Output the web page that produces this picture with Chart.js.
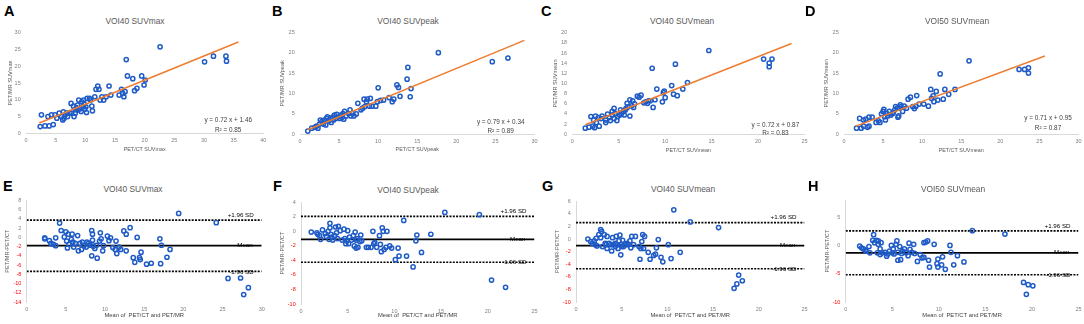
<!DOCTYPE html>
<html>
<head>
<meta charset="utf-8">
<script src="https://cdn.jsdelivr.net/npm/chart.js@4.4.1/dist/chart.umd.min.js"></script>
<style>
html,body{margin:0;padding:0;background:#fff;}
body{width:1084px;height:324px;position:relative;overflow:hidden;font-family:"Liberation Sans",Arial,sans-serif;}
canvas{position:absolute;}
.letter{position:absolute;font-size:14.5px;line-height:14.5px;font-weight:bold;color:#000;}
.ptitle{position:absolute;font-size:8.4px;line-height:8.4px;color:#595959;transform:translate(-50%,-50%);white-space:nowrap;}
</style>
</head>
<body>
<script>
// ---------------- DATA ----------------
const panelTitles = ["VOI40 SUVmax", "VOI40 SUVpeak", "VOI40 SUVmean", "VOI50 SUVmean"];
const topLetters = ["A", "B", "C", "D"];
const bottomLetters = ["E", "F", "G", "H"];
const xTitlesTop = ["PET/CT SUVmax", "PET/CT SUVpeak", "PET/CT SUVmean", "PET/CT SUVmean"];
const yTitlesTop = ["PET/MR SUVmax", "PET/MR SUVpeak", "PET/MR SUVmean", "PET/MR SUVmean"];
const xTitleBottom = "Mean of  PET/CT and PET/MR";
const yTitleBottom = "PET/MR-PET/CT";

// regression (top row)
const slopes = [0.72, 0.79, 0.72, 0.71];
const intercepts = [1.46, 0.34, 0.87, 0.95];
const rSquared = [0.85, 0.89, 0.83, 0.87];
const trendStart = [2.25, 1.0, 1.4, 1.5];
const trendEnd = [35.8, 28.7, 23.6, 25.7];

// axes
const topXMax = [40, 30, 25, 30];
const topYMax = [30, 25, 20, 25];
const topYStep = [5, 5, 2, 5];
const bottomXMax = [30, 25, 25, 25];
const bottomYMin = [-14, -10, -10, -10];
const bottomYMax = [8, 4, 6, 8];
const bottomYTicks = [
  [-14, -12, -10, -8, -6, -4, -2, 0, 2, 4, 6, 8],
  [-10, -8, -6, -4, -2, 0, 2, 4],
  [-10, -8, -6, -4, -2, 0, 2, 4, 6],
  [-10, -5, 0, 5]
];

// Bland-Altman limits
const meanDiff = [-1.8, -1.1, -1.05, -1.3];
const upperLoA = [3.75, 2.05, 2.6, 2.55];
const lowerLoA = [-7.35, -4.25, -4.7, -5.15];

// scatter points [x, y]
const ptsA = [[2.4,2.0],[2.6,5.5],[3.2,2.2],[3.7,5.0],[3.9,2.2],[4.3,5.5],[4.6,2.6],[4.9,5.5],[5.2,4.5],[5.6,6.0],[6.0,5.0],[6.2,4.0],[6.3,6.4],[6.4,4.5],[6.6,5.5],[6.9,6.0],[7.0,5.0],[7.4,6.2],[7.6,8.9],[7.7,6.0],[8.0,8.1],[8.1,5.0],[8.3,6.0],[8.4,7.0],[8.5,7.7],[8.7,8.4],[8.8,7.0],[8.9,9.9],[9.1,7.3],[9.3,6.5],[9.4,9.4],[9.6,7.9],[9.7,9.9],[9.8,8.7],[9.9,7.2],[10.1,7.9],[10.2,6.2],[10.3,10.4],[10.7,10.4],[10.9,9.9],[11.1,8.1],[11.2,6.7],[11.6,10.9],[11.8,13.1],[12.1,14.1],[12.3,13.1],[12.5,9.9],[12.8,10.9],[13.1,9.9],[13.5,10.9],[14.0,14.1],[14.3,11.4],[15.7,11.4],[16.1,13.1],[16.3,11.9],[16.5,10.9],[16.7,12.4],[16.9,22.0],[17.1,17.1],[18.0,16.3],[18.3,12.7],[18.7,13.4],[19.5,17.1],[19.9,14.4],[20.1,15.9],[22.6,25.8],[30.1,21.3],[31.6,23.0],[33.7,23.0],[33.8,21.5]];
const ptsB = [[1.0,0.8],[1.5,1.5],[1.9,1.7],[2.1,2.0],[2.3,1.5],[2.5,2.5],[2.6,3.5],[2.8,3.1],[3.0,2.5],[3.1,3.5],[3.3,2.3],[3.4,3.9],[3.5,4.3],[3.7,3.3],[3.9,3.9],[4.0,2.9],[4.2,4.2],[4.3,3.5],[4.4,4.7],[4.6,3.9],[4.7,4.9],[4.9,4.3],[5.1,3.9],[5.2,4.7],[5.4,4.2],[5.5,5.1],[5.6,3.7],[5.7,5.6],[5.9,4.5],[6.2,5.1],[6.4,6.0],[6.5,4.5],[6.7,5.1],[6.9,4.5],[7.2,5.0],[7.4,7.6],[7.8,6.0],[8.0,6.4],[8.2,8.6],[8.3,6.8],[8.5,8.0],[8.6,8.6],[8.9,6.9],[9.0,8.8],[9.2,6.9],[9.7,6.9],[9.9,8.0],[10.0,11.4],[10.3,8.3],[10.7,8.4],[11.4,9.0],[11.8,8.0],[12.0,8.6],[12.4,12.1],[12.6,11.5],[12.8,9.3],[13.7,13.5],[13.8,16.4],[14.1,9.2],[14.2,11.2],[17.7,20.0],[24.6,17.8],[26.6,18.7]];
const ptsC = [[1.4,1.2],[1.8,1.4],[2.0,3.5],[2.2,1.6],[2.3,2.8],[2.4,1.3],[2.5,3.6],[2.6,2.3],[2.8,3.3],[2.9,1.6],[3.1,3.1],[3.2,3.6],[3.6,2.8],[3.6,2.3],[3.8,4.0],[4.0,3.3],[4.1,2.7],[4.3,4.5],[4.3,3.8],[4.5,5.1],[4.5,3.1],[4.6,4.1],[4.8,2.7],[4.9,3.5],[5.1,3.8],[5.2,4.8],[5.3,4.1],[5.5,4.5],[5.6,3.8],[5.7,4.8],[5.8,5.1],[5.9,6.1],[6.0,5.4],[6.2,6.8],[6.2,3.6],[6.4,5.6],[6.5,6.6],[6.6,5.3],[6.7,6.0],[7.0,7.5],[7.2,7.3],[7.4,7.7],[7.7,6.2],[7.9,6.4],[8.1,6.1],[8.2,6.6],[8.4,6.6],[8.6,13.0],[8.7,5.3],[8.9,6.8],[9.1,8.9],[9.7,6.4],[9.8,8.2],[9.9,8.5],[10.0,7.2],[10.7,9.6],[10.9,7.9],[11.1,13.8],[11.3,7.6],[11.9,8.9],[12.4,10.2],[14.7,16.5],[20.6,14.8],[21.2,14.0],[21.2,13.3],[21.5,14.8]];
const ptsD = [[1.6,1.5],[2.0,3.9],[2.2,1.5],[2.5,3.5],[2.5,2.0],[2.8,3.7],[3.0,1.7],[3.2,4.2],[3.2,2.0],[3.6,4.2],[4.1,2.9],[4.4,3.3],[4.6,2.9],[4.8,5.0],[5.0,5.6],[5.1,6.1],[5.2,4.3],[5.3,3.5],[5.5,5.1],[5.6,4.5],[5.8,5.6],[6.0,4.7],[6.2,5.1],[6.3,5.3],[6.5,6.0],[6.6,6.8],[6.8,6.4],[6.9,4.2],[7.0,4.5],[7.1,6.4],[7.2,7.2],[7.3,6.8],[7.5,5.6],[7.7,6.9],[8.0,6.4],[8.2,8.6],[8.5,9.1],[8.8,6.8],[9.0,6.3],[9.2,6.9],[9.3,9.5],[9.6,7.4],[10.2,7.4],[10.8,6.9],[11.1,11.0],[11.2,8.8],[11.4,9.4],[11.5,8.0],[11.8,10.5],[12.0,8.4],[12.3,14.8],[12.7,8.6],[12.9,11.0],[13.4,9.8],[14.2,11.0],[16.0,18.0],[22.4,15.9],[23.1,15.9],[23.6,16.3],[23.6,15.0]];
const ptsE = [[2.3,-0.1],[2.3,-0.3],[2.9,-0.7],[3.1,-1.3],[3.4,-1.5],[3.7,-0.1],[3.7,-1.8],[4.2,3.1],[4.4,1.5],[4.8,0.1],[5.0,1.2],[5.1,-0.8],[5.2,-2.3],[5.3,0.7],[5.4,-1.5],[5.7,-0.4],[5.8,0.7],[5.9,-1.0],[6.0,-2.1],[6.2,-1.3],[6.5,0.4],[6.6,-2.9],[6.8,-1.3],[7.0,-2.6],[7.1,-1.0],[7.3,-1.8],[7.6,-2.1],[7.7,-1.0],[7.9,-1.3],[8.1,-1.7],[8.3,-4.0],[8.3,1.5],[8.4,0.7],[8.4,-0.6],[8.5,-1.9],[8.7,-2.4],[8.9,-1.7],[9.0,-4.5],[9.3,-0.8],[9.4,1.0],[9.5,-0.3],[9.7,-2.9],[9.8,-1.8],[10.3,0.3],[10.5,-0.7],[10.7,-0.1],[11.0,-2.2],[11.3,-2.6],[11.4,-0.8],[11.5,-3.5],[11.8,-2.1],[12.0,-2.6],[12.4,1.4],[12.7,0.7],[12.7,-2.9],[13.2,2.1],[13.6,-4.4],[13.8,-5.4],[14.1,0.0],[14.4,-4.4],[14.5,-4.8],[14.6,-3.2],[15.3,-5.8],[15.9,-5.6],[17.0,-0.3],[17.2,-1.7],[17.1,-5.7],[17.9,-4.3],[18.3,-2.6],[19.4,5.2],[24.2,3.2],[25.7,-8.9],[27.3,-8.8],[27.7,-12.4],[28.3,-10.9]];
const ptsF = [[1.1,-0.1],[1.7,-0.2],[1.8,-0.4],[2.0,-0.6],[2.1,-1.1],[2.3,0.2],[2.6,-0.3],[2.7,-0.7],[2.9,0.0],[3.0,-1.1],[3.1,1.1],[3.1,0.5],[3.2,-0.4],[3.3,-0.8],[3.4,-1.2],[3.6,-0.6],[3.7,0.6],[3.8,-0.2],[3.9,-1.0],[4.0,0.7],[4.2,0.1],[4.4,-1.2],[4.6,0.3],[4.7,-1.0],[4.8,-1.7],[4.9,-1.3],[5.0,0.1],[5.1,-1.7],[5.2,-0.8],[5.4,-1.2],[5.6,-0.6],[5.7,-2.0],[5.8,-0.1],[5.9,-1.2],[5.9,-2.3],[6.0,-1.0],[6.1,-2.2],[6.3,-1.4],[6.4,-0.5],[6.5,-1.3],[7.0,-2.2],[7.2,-2.2],[7.5,-2.2],[7.7,0.0],[7.8,-1.7],[7.9,-1.5],[8.1,-2.2],[8.4,-0.6],[8.5,-1.8],[8.6,-2.8],[8.7,0.5],[8.8,0.0],[8.9,-2.5],[9.1,-2.2],[9.2,0.0],[9.5,-2.0],[9.7,-2.3],[10.1,-3.9],[10.4,-2.3],[10.5,-3.4],[11.0,1.5],[11.3,-3.4],[12.0,-4.9],[12.3,-1.3],[12.4,-0.5],[12.9,-2.9],[13.9,-0.4],[15.4,2.6],[19.1,2.3],[20.4,-6.7],[21.9,-7.7]];
const ptsG = [[1.3,0.0],[1.6,-0.4],[1.8,-0.7],[2.0,-0.3],[2.1,-0.9],[2.2,0.1],[2.3,-1.1],[2.5,0.7],[2.7,1.5],[2.7,0.2],[2.8,1.2],[2.9,-1.2],[3.1,0.7],[3.2,-0.7],[3.3,-0.9],[3.4,0.4],[3.4,-1.5],[3.6,-0.7],[3.8,-0.9],[3.9,-1.9],[4.0,0.2],[4.1,-0.9],[4.3,-1.2],[4.3,-0.7],[4.4,0.4],[4.5,-0.9],[4.6,-1.5],[4.7,-0.3],[4.8,0.6],[4.9,-0.9],[4.9,-2.5],[5.0,-1.2],[5.1,-0.2],[5.2,-1.2],[5.4,-0.9],[5.6,-0.7],[5.7,-0.9],[5.9,-0.3],[6.0,-1.4],[6.1,0.4],[6.3,-0.9],[6.5,0.4],[6.9,-1.2],[7.0,-3.2],[7.1,-1.5],[7.2,-0.4],[7.3,0.7],[7.4,-1.5],[7.5,0.4],[7.9,-2.1],[8.1,-3.2],[8.5,-2.6],[8.7,-2.4],[8.8,-1.4],[9.0,-0.1],[9.3,-2.9],[9.5,-3.6],[10.1,-0.9],[10.4,-3.1],[10.7,4.6],[11.4,-2.1],[12.5,2.7],[15.6,1.8],[17.3,-7.8],[17.6,-7.1],[17.8,-5.7],[18.2,-6.6]];
const ptsH = [[1.5,-0.1],[1.7,-0.4],[1.9,-0.6],[2.1,-0.8],[2.2,-1.0],[2.5,-0.2],[2.6,-1.3],[2.9,0.9],[3.0,1.9],[3.1,0.5],[3.3,0.9],[3.4,-1.3],[3.5,0.2],[3.5,0.8],[3.7,-0.6],[3.7,-1.6],[3.8,0.5],[3.9,-1.3],[4.2,-1.2],[4.4,-1.9],[4.5,-1.5],[4.7,-1.0],[4.9,0.0],[5.0,-1.3],[5.1,-0.6],[5.2,-1.5],[5.4,0.2],[5.5,0.8],[5.6,-1.2],[5.6,-2.6],[5.8,-0.2],[5.9,-2.5],[6.0,-1.4],[6.1,-1.0],[6.3,-0.6],[6.5,-1.3],[6.7,-1.8],[6.8,0.4],[6.9,-0.7],[7.1,-1.2],[7.3,0.2],[7.4,-1.4],[7.7,-2.8],[8.0,-1.6],[8.2,-2.2],[8.4,-2.1],[8.4,0.5],[8.6,0.6],[8.8,0.8],[8.9,-2.6],[9.0,-3.8],[9.5,0.2],[9.8,-3.2],[9.9,-2.4],[9.9,-3.8],[10.3,-3.4],[10.4,-2.0],[10.7,-4.2],[11.2,0.0],[11.3,-1.2],[11.6,-3.4],[12.0,-1.8],[12.7,-2.9],[13.6,2.6],[17.1,2.0],[19.1,-6.5],[19.4,-8.6],[19.6,-6.9],[20.1,-7.1]];

const topPoints = [ptsA, ptsB, ptsC, ptsD];
const bottomPoints = [ptsE, ptsF, ptsG, ptsH];

// ---------------- LAYOUT / STYLE ----------------
const FONT = '"Liberation Sans", Arial, sans-serif';
const TICK_GRAY = '#7f7f7f';
const TEXT_GRAY = '#595959';
const BLUE = '#1f5bc6';
const ORANGE = '#ed7d31';

const geoTop = [
  {x:0,   y:0, w:270, h:160, pl:26,    pr:263.3,  pt:32.7, pb:133.3, yt:10.5, xt:150, tx:135, ty:20.7, lx:4,   ly:4.1},
  {x:270, y:0, w:270, h:160, pl:300,   pr:535,    pt:32.3, pb:134.3, yt:282,  xt:150, tx:408, ty:20.7, lx:272, ly:4.1},
  {x:540, y:0, w:270, h:160, pl:572.3, pr:808.3,  pt:32.7, pb:134.3, yt:555,  xt:150.5, tx:682, ty:20.7, lx:541, ly:4.1},
  {x:810, y:0, w:274, h:160, pl:844,   pr:1081.7, pt:32.3, pb:134.3, yt:826,  xt:150.5, tx:957, ty:20.7, lx:805, ly:4.1}
];
const geoBottom = [
  {x:0,   y:160, w:270, h:164, pl:26.7,  pr:261.7, pt:200.5, pb:302,   yt:7,   xt:315, tx:133, ty:189, lx:3,   ly:178.8},
  {x:270, y:160, w:270, h:164, pl:301,   pr:535.7, pt:202.3, pb:304,   yt:282, xt:315, tx:408, ty:190, lx:273, ly:178.8},
  {x:540, y:160, w:270, h:164, pl:576,   pr:810,   pt:201,   pb:302.3, yt:557, xt:315, tx:683, ty:189, lx:542, ly:178.8},
  {x:810, y:160, w:274, h:164, pl:845.7, pr:1080,  pt:200,   pb:302.3, yt:827, xt:315, tx:953, ty:189, lx:808, ly:178.8}
];
const eqRight = [11.3, 10, 5.3, 6.7];
const eqUp = [12.6, 12.3, 9.3, 16.3];
const r2Up = [3.3, 3.3, 1.3, 6.3];

function addDiv(cls, text, left, top) {
  const d = document.createElement('div');
  d.className = cls; d.textContent = text;
  d.style.left = left + 'px'; d.style.top = top + 'px';
  document.body.appendChild(d);
}

function makeTextPlugin(items) {
  return {
    id: 'txt',
    afterDraw(chart) {
      const {ctx, chartArea: ca, scales} = chart;
      let lastCenter = ca.right;
      items.forEach(it => {
        ctx.save();
        ctx.font = it.size + 'px ' + FONT;
        ctx.fillStyle = it.color;
        ctx.textBaseline = 'middle';
        const y = (it.value !== undefined) ? scales.y.getPixelForValue(it.value) + it.dy : ca.bottom - it.up;
        if (it.underPrev) {
          ctx.textAlign = 'center';
          ctx.fillText(it.text, lastCenter, y);
        } else {
          ctx.textAlign = 'right';
          const xr = ca.right - it.right;
          ctx.fillText(it.text, xr, y);
          lastCenter = xr - ctx.measureText(it.text).width / 2;
        }
        ctx.restore();
      });
    }
  };
}

function buildChart(g, cfg) {
  const cv = document.createElement('canvas');
  cv.width = g.w; cv.height = g.h;
  cv.style.left = g.x + 'px'; cv.style.top = g.y + 'px';
  cv.style.width = g.w + 'px'; cv.style.height = g.h + 'px';
  document.body.appendChild(cv);
  const yW = g.pl - g.x;
  const xH = g.y + g.h - g.pb;
  const tickFont = {family: FONT, size: 5.5};
  const yTitleSize = 5.6, xTitleSize = cfg.xTitleSize;
  return new Chart(cv, {
    type: 'scatter',
    data: {datasets: cfg.datasets},
    options: {
      responsive: false,
      animation: false,
      events: [],
      layout: {padding: {left: 0, top: g.pt - g.y, right: g.x + g.w - g.pr, bottom: 0}},
      plugins: {legend: {display: false}, tooltip: {enabled: false}, title: {display: false}},
      scales: {
        x: {
          type: 'linear', min: 0, max: cfg.xMax,
          ticks: {stepSize: 5, autoSkip: false, maxRotation: 0, padding: cfg.xTickPad, color: TICK_GRAY, font: tickFont},
          grid: {display: false, drawTicks: false},
          border: {display: cfg.xBorder, color: '#d9d9d9', width: 1},
          title: {display: true, text: cfg.xTitle, color: cfg.xTitleColor, font: {family: FONT, size: xTitleSize},
                  padding: {top: 0, bottom: (g.y + g.h - g.xt) - xTitleSize * 0.6}},
          afterFit(s) { s.height = xH; s.paddingLeft = 0; s.paddingRight = 0; }
        },
        y: {
          type: 'linear', min: cfg.yMin, max: cfg.yMax,
          ticks: {stepSize: cfg.yStep, autoSkip: false, padding: 5.3, font: tickFont,
                  color: (c) => (c.tick && c.tick.value < 0) ? '#ff0000' : TICK_GRAY},
          grid: {display: false, drawTicks: false},
          border: {display: cfg.yBorder, color: '#d9d9d9', width: 1},
          title: {display: true, text: cfg.yTitle, color: TEXT_GRAY, font: {family: FONT, size: yTitleSize},
                  padding: {top: (g.yt - g.x) - yTitleSize * 0.6, bottom: 0}},
          afterBuildTicks(s) { if (cfg.yTicks) s.ticks = cfg.yTicks.map(v => ({value: v})); },
          afterFit(s) { s.width = yW; s.paddingTop = 0; s.paddingBottom = 0; }
        }
      }
    },
    plugins: [makeTextPlugin(cfg.items)]
  });
}

function pointDataset(pts) {
  return {
    type: 'scatter',
    data: pts.map(p => ({x: p[0], y: p[1]})),
    pointStyle: 'circle', pointRadius: 2.1, borderWidth: 1.5,
    borderColor: BLUE, backgroundColor: 'rgba(255,255,255,0)',
    order: 1
  };
}

// ---------------- TOP ROW ----------------
for (let i = 0; i < 4; i++) {
  const g = geoTop[i];
  addDiv('letter', topLetters[i], g.lx, g.ly);
  addDiv('ptitle', panelTitles[i], g.tx, g.ty);
  const trend = {
    type: 'scatter', showLine: true,
    data: [
      {x: trendStart[i], y: slopes[i] * trendStart[i] + intercepts[i]},
      {x: trendEnd[i], y: slopes[i] * trendEnd[i] + intercepts[i]}
    ],
    borderColor: ORANGE, borderWidth: 1.5, pointRadius: 0, order: 0
  };
  buildChart(g, {
    datasets: [trend, pointDataset(topPoints[i])],
    xMax: topXMax[i], yMin: 0, yMax: topYMax[i], yStep: topYStep[i],
    xTitle: xTitlesTop[i], yTitle: yTitlesTop[i], xTitleColor: TEXT_GRAY, xTitleSize: 5.4,
    xTickPad: 4, xBorder: true, yBorder: false,
    items: [
      {text: 'y = ' + slopes[i].toFixed(2) + ' x + ' + intercepts[i].toFixed(2), right: eqRight[i], up: eqUp[i], size: 6.4, color: '#404040'},
      {text: 'R\u00B2 = ' + rSquared[i].toFixed(2), underPrev: true, up: r2Up[i], size: 6.4, color: '#404040'}
    ]
  });
}

// ---------------- BOTTOM ROW ----------------
for (let i = 0; i < 4; i++) {
  const g = geoBottom[i];
  addDiv('letter', bottomLetters[i], g.lx, g.ly);
  addDiv('ptitle', panelTitles[i], g.tx, g.ty);
  const hline = (v, dashed, w) => ({
    type: 'scatter', showLine: true,
    data: [{x: 0, y: v}, {x: bottomXMax[i], y: v}],
    borderColor: '#000', borderWidth: w, borderDash: dashed ? [2, 1.3] : [],
    pointRadius: 0, order: 2
  });
  buildChart(g, {
    datasets: [pointDataset(bottomPoints[i]), hline(upperLoA[i], true, 1.7), hline(meanDiff[i], false, 1.7), hline(lowerLoA[i], true, 1.7)],
    xMax: bottomXMax[i], yMin: bottomYMin[i], yMax: bottomYMax[i], yStep: 2, yTicks: bottomYTicks[i],
    xTitle: xTitleBottom, yTitle: yTitleBottom, xTitleColor: '#404040', xTitleSize: 5.8,
    xTickPad: 3.7, xBorder: false, yBorder: true,
    items: [
      {text: '+1.96 SD', value: upperLoA[i], dy: -5, right: 8, size: 6.2, color: '#000'},
      {text: 'Mean', value: meanDiff[i], dy: -0.5, right: 9, size: 6.2, color: '#000'},
      {text: '-1.96 SD', value: lowerLoA[i], dy: 0.5, right: 8, size: 6.2, color: '#000'}
    ]
  });
}
</script>
</body>
</html>
